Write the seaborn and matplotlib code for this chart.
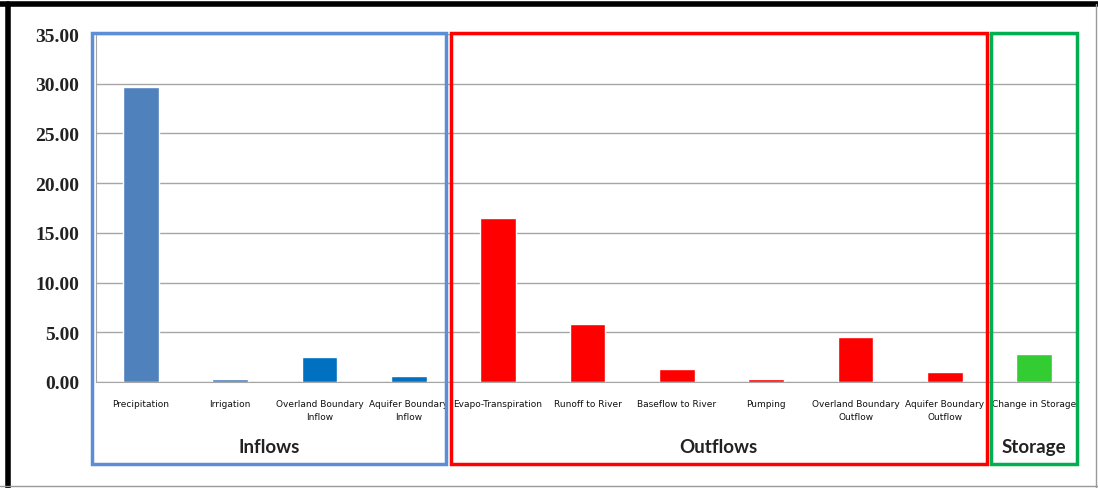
import numpy as np
import seaborn as sns
import matplotlib.pyplot as plt
from matplotlib.patches import Rectangle
from matplotlib.lines import Line2D
from matplotlib.transforms import blended_transform_factory

# Water budget components
categories = ["Precipitation", "Irrigation", "Overland Boundary\nInflow", "Aquifer Boundary\nInflow",
              "Evapo-Transpiration", "Runoff to River", "Baseflow to River", "Pumping",
              "Overland Boundary\nOutflow", "Aquifer Boundary\nOutflow", "Change in Storage"]
values = [29.7, 0.3, 2.5, 0.6, 16.5, 5.85, 1.3, 0.3, 4.5, 1.0, 2.85]
bar_colors = ["#4F81BD", "#4F81BD", "#0070C0", "#0070C0",
              "#FF0000", "#FF0000", "#FF0000", "#FF0000", "#FF0000", "#FF0000", "#33CC33"]
groups = ["Inflows", "Outflows", "Storage"]
group_span = [(0, 3), (4, 9), (10, 10)]
group_edge = ["#5B8ED6", "#FF0000", "#00B050"]
yticks = np.arange(0, 36, 5)

sns.set_style("white")
plt.rcParams['font.family'] = ['DejaVu Sans']

fig = plt.figure(figsize=(10.98, 4.89), dpi=100)
ax = fig.add_axes([0.0874, 0.2168, 0.8953, 0.7116])

sns.barplot(x=categories, y=values, hue=categories, palette=bar_colors,
            legend=False, width=0.4, saturation=1, ax=ax)

ax.set_ylim(0, 35)
ax.set_xlim(-0.5, len(categories) - 0.5)
ax.set_yticks(yticks)
ax.set_yticklabels([f"{v:.2f}" for v in yticks], fontsize=14, fontweight="bold",
                   family="Liberation Serif", color="#222222")
ax.yaxis.grid(True, color="#A6A6A6", linewidth=1)
ax.set_axisbelow(True)
ax.tick_params(axis="y", length=4, color="#A6A6A6", pad=8)
ax.set_xticks(range(len(categories)))
ax.set_xticklabels(categories, fontsize=6.5, linespacing=1.6, color="#111111")
ax.tick_params(axis="x", length=0, pad=12)
ax.set_xticks(np.arange(-0.5, len(categories), 1), minor=True)
ax.tick_params(axis="x", which="minor", length=4, color="#A6A6A6")
for s in ["top", "right"]:
    ax.spines[s].set_visible(False)
for s in ["left", "bottom"]:
    ax.spines[s].set_color("#A6A6A6")

# Group boxes and labels
trans = blended_transform_factory(ax.transData, fig.transFigure)
box_bottom, box_top = 0.049, 0.931
offsets = [(-0.04, -0.08), (-0.03, -0.03), (0.01, -0.02)]
for name, (a, b), ec, (da, db) in zip(groups, group_span, group_edge, offsets):
    x0 = a - 0.5 + da
    x1 = b + 0.5 + db
    ax.add_patch(Rectangle((x0, box_bottom), x1 - x0, box_top - box_bottom,
                           transform=trans, fill=False, edgecolor=ec, linewidth=2.5,
                           clip_on=False, zorder=5))
    fig.text((x0 + x1) / 2, 0.085, name, transform=trans, ha="center", va="center",
             fontsize=13.5, fontweight="bold", family="Lato", color="#222222")

# Outer frame
fig.add_artist(Line2D([0, 1], [0.99, 0.99], transform=fig.transFigure, color="black", linewidth=4))
fig.add_artist(Line2D([0.0073, 0.0073], [0, 0.99], transform=fig.transFigure, color="black", linewidth=4))
fig.add_artist(Line2D([0.998, 0.998], [0, 0.99], transform=fig.transFigure, color="#999999", linewidth=1))
fig.add_artist(Line2D([0, 1], [0.004, 0.004], transform=fig.transFigure, color="#999999", linewidth=1))

plt.savefig("out.png", dpi=100)
